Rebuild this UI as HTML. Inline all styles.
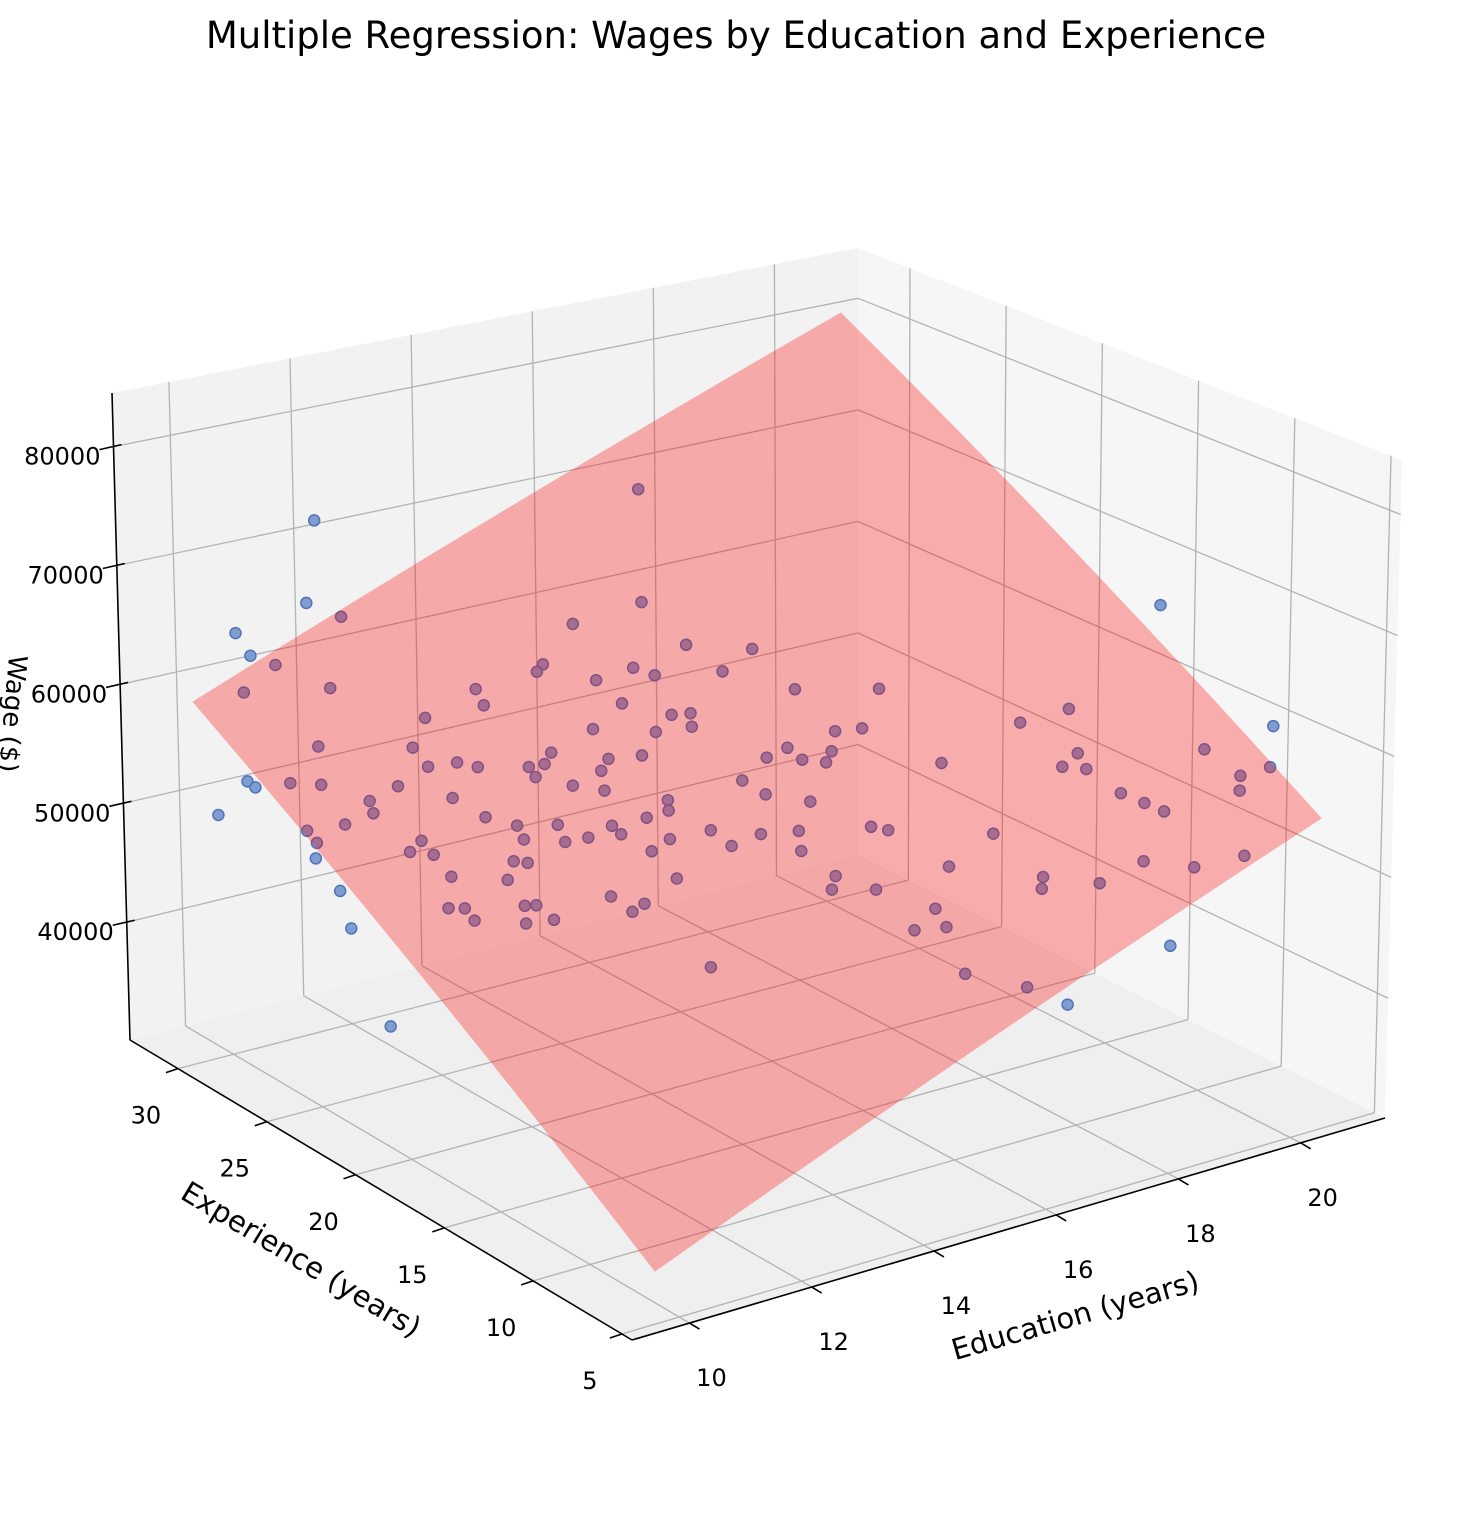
<!DOCTYPE html>
<html><head><meta charset="utf-8"><title>Multiple Regression: Wages</title>
<style>
html,body{margin:0;padding:0;background:#fff;}
svg{display:block;font-family:"DejaVu Sans","Liberation Sans",sans-serif;}
</style></head>
<body>
<svg id="chart" width="1471" height="1514" viewBox="0 0 1471 1514" xmlns="http://www.w3.org/2000/svg">
<text x="736" y="48" text-anchor="middle" font-size="37" fill="#000">Multiple Regression: Wages by Education and Experience</text>
<g id="panes"></g>
<g id="grid"></g>
<g id="axes"></g>
<g id="points"></g>
<g id="plane"></g>
<text x="0" y="0" text-anchor="middle" font-size="29" transform="translate(1078,1325) rotate(-16)">Education (years)</text>
<text x="0" y="0" text-anchor="middle" font-size="29" transform="translate(296,1268) rotate(31)">Experience (years)</text>
<text x="0" y="0" text-anchor="middle" font-size="26" transform="translate(4,713) rotate(95)">Wage ($)</text>
</svg>
<script>
// ---- data ----
const edu = [15.99,12.10,15.02,20.63,11.28,11.55,10.22,14.07,10.19,10.39,15.14,15.83,13.39,13.26,14.36,14.53,9.80,10.81,15.31,12.43,12.38,13.84,13.93,15.95,16.87,11.62,14.38,14.60,13.39,14.06,14.50,20.79,16.03,16.35,18.11,18.75,10.18,11.23,12.73,13.31,13.71,15.37,15.43,15.06,15.82,19.86,18.47,18.19,18.43,11.60,11.24,11.79,12.36,12.56,12.35,13.13,15.67,16.92,9.09,9.13,9.56,9.89,10.74,12.69,13.00,14.60,14.74,20.41,20.02,18.60,10.30,11.25,13.62,13.54,15.17,10.24,11.46,18.77,18.91,19.89,13.24,12.79,11.74,12.20,9.83,9.35,9.36,12.43,12.82,13.32,13.84,14.80,14.36,15.62,15.78,16.89,10.55,10.33,12.14,11.70,13.94,14.66,13.02,9.22,10.57,11.41,11.55,19.40,18.28,16.14,10.59,11.19,13.07,14.83,18.77,17.07,16.96,17.63,9.23,14.68,15.16,12.20,11.17,11.30,10.30,10.48,12.31,12.51,15.65,10.49,11.04,11.38,9.05,15.25,15.62,8.48,12.73,17.88,15.45,16.01,16.31,8.71];
const exp = [27.1,31.9,23.8,14.4,29.7,28.7,30.1,24.4,29.2,28.5,21.8,20.5,23.8,23.7,22.1,21.5,28.3,26.9,20.4,24.3,23.7,22.4,21.3,18.6,17.1,24.4,20.1,19.8,21.1,19.9,19.4,8.9,16.7,16.3,13.6,13.1,25.5,23.8,21.2,20.0,19.5,17.1,16.5,17.2,16.2,9.5,11.7,11.6,11.1,22.6,23.0,22.1,21.2,21.0,20.8,19.8,16.0,13.9,25.8,25.5,25.0,24.4,23.0,19.9,19.2,17.0,16.2,7.8,8.1,9.8,23.1,21.7,17.8,17.5,15.2,22.7,20.6,9.1,8.5,7.7,17.7,18.1,19.8,19.1,22.9,23.4,22.9,18.2,17.7,16.7,16.2,14.6,15.2,13.4,13.0,11.0,21.1,21.0,18.5,19.3,15.4,14.0,16.7,22.5,20.5,18.9,18.6,5.8,7.5,10.9,19.6,18.5,15.5,12.7,6.4,8.9,8.6,7.7,21.2,12.4,11.6,16.2,17.5,17.3,18.8,18.5,15.4,15.4,10.0,18.0,17.0,16.6,20.0,9.8,9.3,25.4,12.5,4.7,7.7,6.2,5.0,16.7];
const wage = [73130,71180,67040,66750,66760,66070,65090,65850,63930,63470,64770,64570,63690,63310,63540,63160,62000,62310,63370,62360,61530,62890,61680,62430,62450,60830,61090,61170,60330,60190,60480,60200,60230,60370,60610,61300,59280,59290,59100,58790,58980,59370,58760,58870,59190,59060,58960,58270,58130,58550,58320,58330,58350,58510,57830,58180,58610,58530,57420,57120,57370,57320,57300,57410,57160,57690,56970,58060,57640,56850,56520,56730,56670,56140,56590,55900,55760,56320,55870,56870,55780,55360,55350,55400,55310,54970,54360,54760,54930,54680,55140,55090,54930,55280,55100,54870,54530,53960,54520,54650,54330,54070,54060,53580,53830,53530,53460,53500,53320,53210,52730,52590,52690,52780,52970,52620,52020,52250,51960,52090,52080,51780,51290,51330,51150,51150,51010,51420,51080,50540,50410,50600,50090,50000,50150,55690,48230,49010,47790,47070,46170,45280];
const planeCoef = [10000, 2000, 1000];
const planeEduRange = [9.6, 20.4];
const planeExpRange = [5, 30.5];
const eduTicks = [10,12,14,16,18,20];
const expTicks = [5,10,15,20,25,30];
const wageTicks = [40000,50000,60000,70000,80000];

// ---- projection ----
const E0=9.06,E1=21.38,X0=4.43,X1=32.7,W0=30095,W1=84510;
const FF=[632,1340],FR=[1385,1118],FL=[130,1040],FB=[858,855];
const TF=[632,640],TR=[1402,460],TL=[112,393],TB=[858,248];
function bil(a,b,c,d,u,v){
  const w0=(1-u)*(1-v),w1=u*(1-v),w2=(1-u)*v,w3=u*v;
  return [a[0]*w0+b[0]*w1+c[0]*w2+d[0]*w3, a[1]*w0+b[1]*w1+c[1]*w2+d[1]*w3];
}
function projUVT(u,v,t){
  const f=bil(FF,FR,FL,FB,u,v), p=bil(TF,TR,TL,TB,u,v);
  return [f[0]+(p[0]-f[0])*t, f[1]+(p[1]-f[1])*t];
}
function proj(e,x,w){return projUVT((e-E0)/(E1-E0),(x-X0)/(X1-X0),(w-W0)/(W1-W0));}
const NS="http://www.w3.org/2000/svg";
function mk(tag,attrs,parent){const el=document.createElementNS(NS,tag);for(const k in attrs)el.setAttribute(k,attrs[k]);parent.appendChild(el);return el;}
function pts(arr){return arr.map(p=>p[0].toFixed(1)+","+p[1].toFixed(1)).join(" ");}

const panes=document.getElementById('panes'),grid=document.getElementById('grid'),axes=document.getElementById('axes');
let pl=mk('polygon',{points:pts([FL,FB,TB,TL]),fill:'#f2f2f2'},panes);


pl=mk('polygon',{points:pts([FB,FR,TR,TB]),fill:'#f6f6f6'},panes);


pl=mk('polygon',{points:pts([FF,FR,FB,FL]),fill:'#efefef'},panes);


function line(a,b,attrs,parent,name){const l=mk('line',Object.assign({x1:a[0],y1:a[1],x2:b[0],y2:b[1]},attrs),parent);return l;}
const gA={stroke:'#b3b3b3','stroke-width':1.3};
eduTicks.forEach(e=>{const u=(e-E0)/(E1-E0);
  line(projUVT(u,0,0),projUVT(u,1,0),gA,grid,'floor-grid-edu');
  line(projUVT(u,1,0),projUVT(u,1,1),gA,grid,'wall-grid-edu');});
expTicks.forEach(x=>{const v=(x-X0)/(X1-X0);
  line(projUVT(0,v,0),projUVT(1,v,0),gA,grid,'floor-grid-exp');
  line(projUVT(1,v,0),projUVT(1,v,1),gA,grid,'wall-grid-exp');});
wageTicks.forEach(w=>{const t=(w-W0)/(W1-W0);
  line(projUVT(0,1,t),projUVT(1,1,t),gA,grid,'wall-grid-wage-left');
  line(projUVT(1,1,t),projUVT(1,0,t),gA,grid,'wall-grid-wage-right');});
const aA={stroke:'#000','stroke-width':1.6};
line(FF,FR,aA,axes,'x-axis-line');
line(FF,FL,aA,axes,'y-axis-line');
line(FL,TL,aA,axes,'z-axis-line');
function txt(s,x,y,anchor,name){const t=mk('text',{x:x,y:y,'text-anchor':anchor,'font-size':24,fill:'#000'},axes);t.textContent=s;}
eduTicks.forEach(e=>{const p=projUVT((e-E0)/(E1-E0),0,0);
  line(p,[p[0]+10,p[1]+6],aA,axes,'x-tick');
  txt(String(e),p[0]+22,p[1]+63,'middle','x-tick-label');});
expTicks.forEach(x=>{const p=projUVT(0,(x-X0)/(X1-X0),0);
  line(p,[p[0]-12,p[1]+4],aA,axes,'y-tick');
  txt(String(x),p[0]-32,p[1]+55,'middle','y-tick-label');});
wageTicks.forEach(w=>{const p=projUVT(0,1,(w-W0)/(W1-W0));
  line([p[0]-14,p[1]+3],[p[0]+8,p[1]-2],aA,axes,'z-tick');
  txt(String(w),p[0]-13,p[1]+18,'end','z-tick-label');});
const pg=document.getElementById('points');
for(let i=0;i<edu.length;i++){const p=proj(edu[i],exp[i],wage[i]);
  const c=mk('circle',{cx:p[0].toFixed(1),cy:p[1].toFixed(1),r:5.5,fill:'#7393cc','fill-opacity':0.9,stroke:'#4f74bb','stroke-width':1.5},pg);
  
  }
function pw(e,x){return planeCoef[0]+planeCoef[1]*e+planeCoef[2]*x;}
const N=8,poly=[];
const [ea,eb]=planeEduRange,[xa,xb]=planeExpRange;
for(let k=0;k<=N;k++){const e=ea+(eb-ea)*k/N;poly.push(proj(e,xa,pw(e,xa)));}
for(let k=0;k<=N;k++){const x=xa+(xb-xa)*k/N;poly.push(proj(eb,x,pw(eb,x)));}
for(let k=N;k>=0;k--){const e=ea+(eb-ea)*k/N;poly.push(proj(e,xb,pw(e,xb)));}
for(let k=N;k>=0;k--){const x=xa+(xb-xa)*k/N;poly.push(proj(ea,x,pw(ea,x)));}
const pp=mk('polygon',{points:pts(poly),fill:'#ff0000','fill-opacity':0.3},document.getElementById('plane'));


</script>
</body></html>
